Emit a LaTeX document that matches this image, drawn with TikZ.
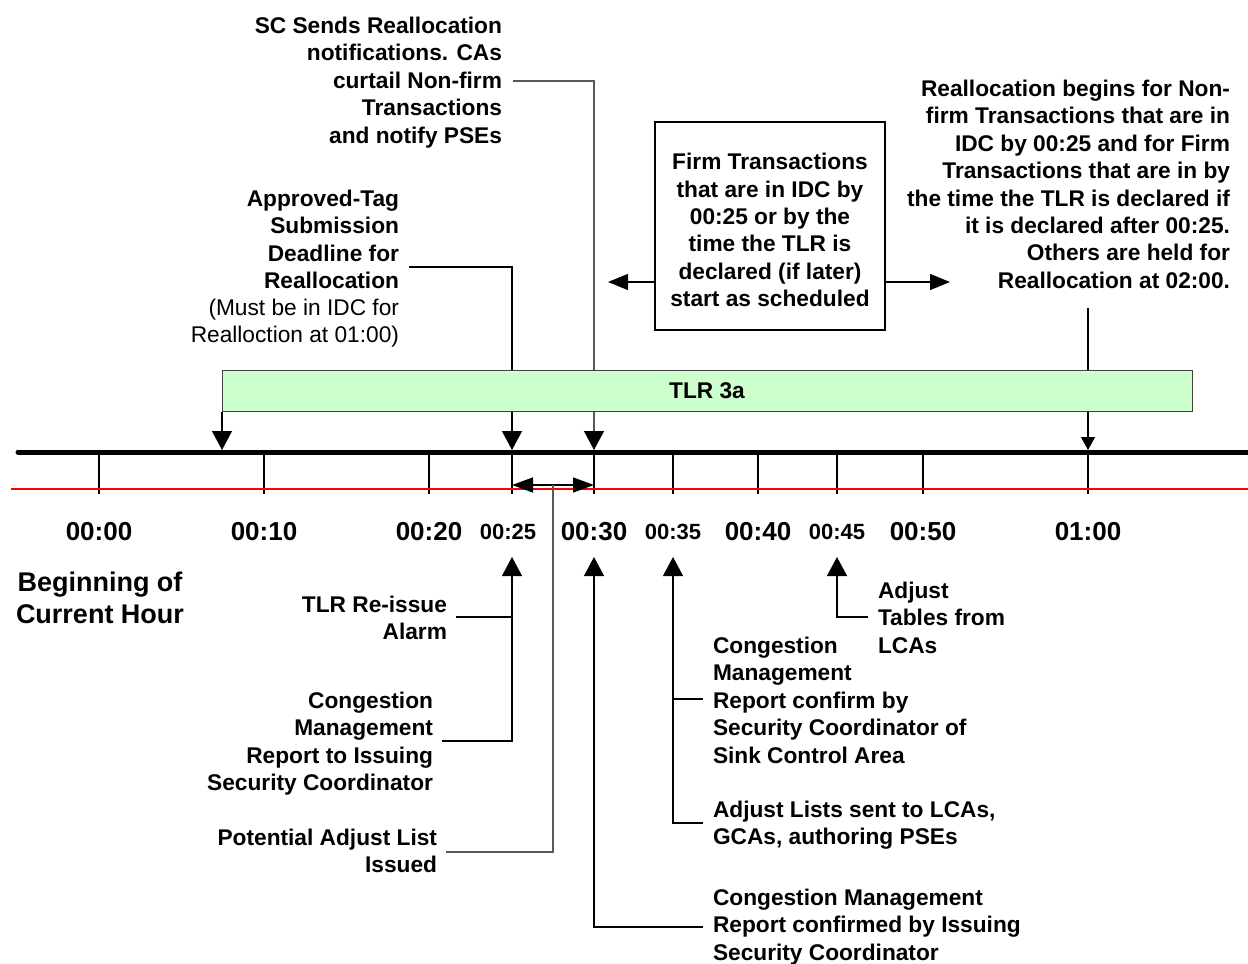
\documentclass[tikz,border=0pt]{standalone}
\usepackage{fontspec}
\setmainfont{Liberation Sans}
\usetikzlibrary{arrows.meta}
\definecolor{barfill}{RGB}{204,255,204}
\begin{document}
\begin{tikzpicture}[x=1pt,y=-1pt,
  lbl/.style={font=\fontsize{22.7}{27.4}\selectfont\bfseries, inner sep=0pt, outer sep=0pt},
  reg/.style={font=\fontsize{22.7}{27.4}\selectfont, inner sep=0pt, outer sep=0pt},
  bigt/.style={font=\fontsize{26}{30}\selectfont\bfseries, inner sep=0pt},
  smallt/.style={font=\fontsize{22}{26}\selectfont\bfseries, inner sep=0pt},
  thinl/.style={line width=1.2pt, draw=black},
  greyl/.style={line width=1.2pt, draw=black!65},
  tipA/.style={-{Triangle[length=19pt,width=20pt,black]}},
  tipS/.style={-{Triangle[length=13pt,width=14pt,black]}},
  tipM/.style={-{Triangle[length=20pt,width=16pt,black]}},
  tipB/.style={{Triangle[length=21pt,width=15pt]}-{Triangle[length=21pt,width=15pt]}},
]
\useasboundingbox (0,0) rectangle (1248,964);

% timeline anchor points
\coordinate (a10) at (222,450);
\coordinate (a25) at (512,450);
\coordinate (a30) at (594,450);
\coordinate (a60) at (1088,450);
\coordinate (tlL) at (18,452);
\coordinate (tlR) at (1260,452);
\coordinate (rdL) at (11,489);
\coordinate (rdR) at (1260,489);

% upper labels
\node[lbl, align=right, anchor=north east] (sc) at (502,17)
  {SC Sends Reallocation\\notifications. CAs\\curtail Non-firm\\Transactions\\and notify PSEs};
\coordinate (scend) at (513,81);

\node[lbl, align=right, anchor=north east] (appr) at (399,190)
  {Approved-Tag\\Submission\\Deadline for\\Reallocation};
\node[reg, align=right, anchor=north east] (must) at (399,299)
  {(Must be in IDC for\\Realloction at 01:00)};
\coordinate (apend) at (409,267);

\node[draw, line width=1.2pt, minimum width=230pt, minimum height=208pt, inner sep=0pt] (box) at (770,226) {};
\node[lbl, align=center] (boxtxt) at (770,230)
  {Firm Transactions\\that are in IDC by\\00:25 or by the\\time the TLR is\\declared (if later)\\start as scheduled};
\coordinate (bl) at (655,282);
\coordinate (blt) at (608,282);
\coordinate (br) at (885,282);
\coordinate (brt) at (950,282);

\node[lbl, align=right, anchor=north east] (realloc) at (1230,80)
  {Reallocation begins for Non-\\firm Transactions that are in\\IDC by 00:25 and for Firm\\Transactions that are in by\\the time the TLR is declared if\\it is declared after 00:25.\\Others are held for\\Reallocation at 02:00.};
\coordinate (rt) at (1088,308);

% connectors from the upper labels (behind the bar)
\draw[greyl, tipA] (scend) -| (a30);
\draw[thinl, tipA] (apend) -| (a25);
\draw[thinl, tipS] (rt) -- (a60);
\draw[thinl, tipM] (bl) -- (blt);
\draw[thinl, tipM] (br) -- (brt);

% TLR bar
\node[draw=black!75, line width=1pt, fill=barfill, minimum width=970pt, minimum height=41pt, inner sep=0pt, anchor=north west] (bar) at (222,370) {};
\node[lbl] (barlbl) at (707,391) {TLR 3a};
\draw[thinl, tipA] (bar.south west) -- (a10);

% timeline
\foreach \x in {99,264,429,512,594,673,758,837,923,1088}
  \draw[thinl] (\x,452) -- (\x,494);
\draw[line width=5pt, line cap=round] (tlL) -- (tlR);
\draw[red, line width=1.6pt] (rdL) -- (rdR);

% time labels
\node[bigt] (t00) at (99,532) {00:00};
\node[bigt] (t10) at (264,532) {00:10};
\node[bigt] (t20) at (429,532) {00:20};
\node[smallt] (t25) at (508,532) {00:25};
\node[bigt] (t30) at (594,532) {00:30};
\node[smallt] (t35) at (673,532) {00:35};
\node[bigt] (t40) at (758,532) {00:40};
\node[smallt] (t45) at (837,532) {00:45};
\node[bigt] (t50) at (923,532) {00:50};
\node[bigt] (t60) at (1088,532) {01:00};

\node[font=\fontsize{27}{32}\selectfont\bfseries, align=center, anchor=north, inner sep=0pt] (beg) at (100,572)
  {Beginning of\\Current Hour};

% double arrow 00:25 - 00:30
\coordinate (d1) at (512,485);
\coordinate (d2) at (594,485);
\coordinate (dm) at (553,485);
\draw[thinl, tipB] (d1) -- (d2);

% lower labels
\node[lbl, align=right, anchor=north east] (reissue) at (447,596) {TLR Re-issue\\Alarm};
\node[lbl, align=right, anchor=north east] (cmrep) at (433,692)
  {Congestion\\Management\\Report to Issuing\\Security Coordinator};
\node[lbl, align=right, anchor=north east] (pal) at (437,829) {Potential Adjust List\\Issued};
\node[lbl, align=left, anchor=north west] (adjt) at (878,582) {Adjust\\Tables from\\LCAs};
\node[lbl, align=left, anchor=north west] (cmsink) at (713,637)
  {Congestion\\Management\\Report confirm by\\Security Coordinator of\\Sink Control Area};
\node[lbl, align=left, anchor=north west] (adjl) at (713,801)
  {Adjust Lists sent to LCAs,\\GCAs, authoring PSEs};
\node[lbl, align=left, anchor=north west] (cmiss) at (713,889)
  {Congestion Management\\Report confirmed by Issuing\\Security Coordinator};

\coordinate (u25) at (512,557);
\coordinate (u30) at (594,557);
\coordinate (u35) at (673,557);
\coordinate (u45) at (837,557);

\coordinate (ra) at (456,617);
\coordinate (cm1) at (442,741);
\coordinate (pale) at (446,852);
\coordinate (cmc) at (703,927);
\coordinate (al) at (703,823);
\coordinate (cr) at (703,699);
\coordinate (at) at (868,617);

\draw[greyl] (dm) |- (pale);
\draw[thinl, tipA] (cm1) -| (u25);
\draw[thinl] (ra) -- (ra -| u25);
\draw[thinl, tipA] (cmc) -| (u30);
\draw[thinl, tipA] (al) -| (u35);
\draw[thinl] (cr) -- (cr -| u35);
\draw[thinl, tipA] (at) -| (u45);
\end{tikzpicture}
\end{document}
